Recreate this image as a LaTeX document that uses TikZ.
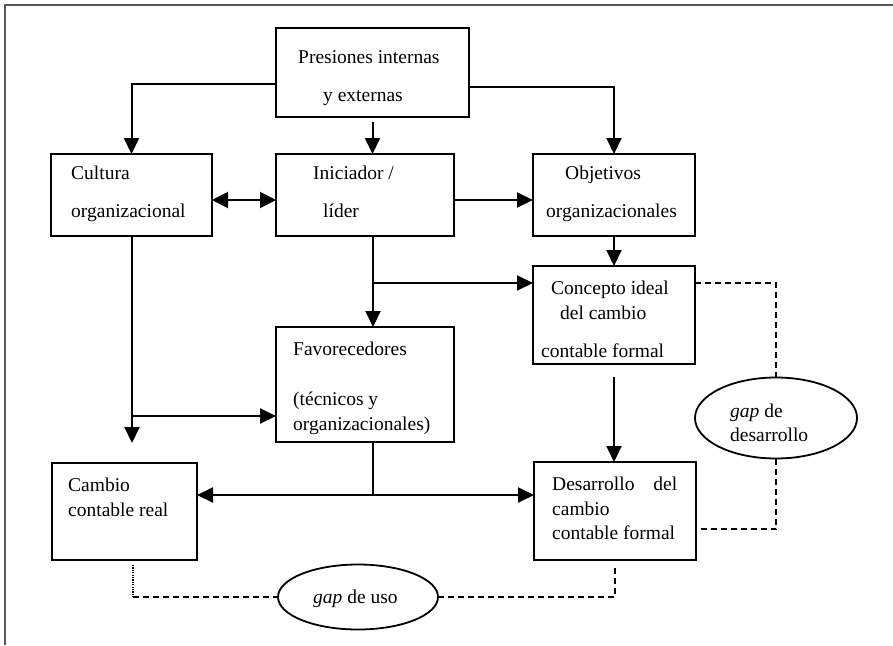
\documentclass[tikz,border=0pt]{standalone}
\usepackage{fontspec}
\setmainfont{Liberation Serif}
\usetikzlibrary{arrows.meta,shapes.geometric}
\begin{document}
\begin{tikzpicture}[x=1pt,y=-1pt,
  box/.style={draw, line width=2.2pt, inner sep=0pt, outer sep=0pt, rectangle},
  oval/.style={draw, line width=1.8pt, inner sep=0pt, outer sep=0pt, ellipse},
  txt/.style={anchor=base west, inner sep=0pt, font=\fontsize{19.5}{23}\selectfont},
  conn/.style={line width=2pt},
  arr/.style={conn, -{Triangle[length=16pt,width=15pt]}},
  arrtwo/.style={conn, {Triangle[length=16pt,width=16pt]}-{Triangle[length=16pt,width=16pt]}},
  dsh/.style={line width=1.7pt, dash pattern=on 6pt off 4pt},
  dtt/.style={line width=1.7pt, dash pattern=on 1.2pt off 1.2pt},
  frame/.style={line width=1.5pt, draw=black!65}
]
\useasboundingbox (0,0) rectangle (893,645);
\draw[frame] (5,645) -- (5,5) -- (893,5);

% boxes
\node[box, minimum width=193pt, minimum height=89pt] (pres) at (372.5,72.5) {};
\node[box, minimum width=161pt, minimum height=82pt] (cult) at (131.5,195) {};
\node[box, minimum width=178pt, minimum height=82pt] (inic) at (365,195) {};
\node[box, minimum width=162pt, minimum height=82pt] (obj) at (614,195) {};
\node[box, minimum width=162pt, minimum height=98pt] (conc) at (614,315) {};
\node[box, minimum width=178pt, minimum height=115pt] (fav) at (365,384.5) {};
\node[box, minimum width=145pt, minimum height=97pt] (camb) at (124.5,511.5) {};
\node[box, minimum width=162pt, minimum height=98pt] (desa) at (615,511) {};
\node[oval, minimum width=162pt, minimum height=81pt] (gapd) at (776,418) {};
\node[oval, minimum width=160pt, minimum height=65pt] (gapu) at (358,597) {};

% texts
\node[txt] (tp1) at (298,63) {Presiones internas};
\node[txt] (tp2) at (323,101) {y externas};
\node[txt] (tc1) at (71,179) {Cultura};
\node[txt] (tc2) at (71,217) {organizacional};
\node[txt] (ti1) at (313,179) {Iniciador /};
\node[txt] (ti2) at (323,217) {líder};
\node[txt] (to1) at (565,179) {Objetivos};
\node[txt] (to2) at (546,217) {organizacionales};
\node[txt] (tk1) at (551,294) {Concepto ideal};
\node[txt] (tk2) at (560,319) {del cambio};
\node[txt] (tk3) at (541,357) {contable formal};
\node[txt] (tf1) at (293,355) {Favorecedores};
\node[txt] (tf2) at (293,405) {(técnicos y};
\node[txt] (tf3) at (293,430) {organizacionales)};
\node[txt] (tm1) at (68,491) {Cambio};
\node[txt] (tm2) at (68,516) {contable real};
\node[txt] (td1) at (552,490) {\hbox to 125pt{Desarrollo\hfil del}};
\node[txt] (td2) at (552,515) {cambio};
\node[txt] (td3) at (552,539) {contable formal};
\node[txt] (tg1) at (730,417) {\textit{gap} de};
\node[txt] (tg2) at (730,441) {desarrollo};
\node[txt] (tu1) at (313,603) {\textit{gap} de uso};

% junction coordinates
\coordinate (j1) at (373,283);
\coordinate (j2) at (132,416);
\coordinate (c1) at (132,443);
\coordinate (j3) at (373,495);
\coordinate (d1) at (776,283);
\coordinate (d2) at (776,529);
\coordinate (u1) at (133,597);
\coordinate (u2) at (615,597);

% connectors
\draw[arr] (pres.west |- 0,84) -| (cult.north);
\draw[arr] ([yshift=-5pt]pres.south) -- (pres.south |- inic.north);
\draw[arr] (pres.east |- 0,87) -| (obj.north);
\draw[arrtwo] (cult.east |- 0,200) -- (inic.west |- 0,200);
\draw[arr] (inic.east |- 0,200) -- (obj.west |- 0,200);
\draw[arr] (obj.south) -- (conc.north);
\draw[arr] (inic.south -| j1) -- (fav.north -| j1);
\draw[arr] (j1) -- (conc.west |- j1);
\draw[arr] (cult.south -| c1) -- (c1);
\draw[arr] (j2) -- (fav.west |- j2);
\draw[conn] (fav.south -| j3) -- (j3);
\draw[arr] (j3) -- (camb.east |- j3);
\draw[arr] (j3) -- (desa.west |- j3);
\draw[arr] ([yshift=-13pt]conc.south) -- (desa.north -| conc.south);

% dashed gap links
\draw[dsh] (conc.east |- d1) -- (d1) -- (gapd.north);
\draw[dsh] (gapd.south) -- (d2) -- (desa.east |- d2);
\draw[dtt] ([yshift=-5pt]camb.south -| u1) -- (u1);
\draw[dsh] (u1) -- (gapu.west);
\draw[dsh] (gapu.east) -- (u2) -- ([yshift=-5pt]desa.south -| u2);
\end{tikzpicture}
\end{document}
